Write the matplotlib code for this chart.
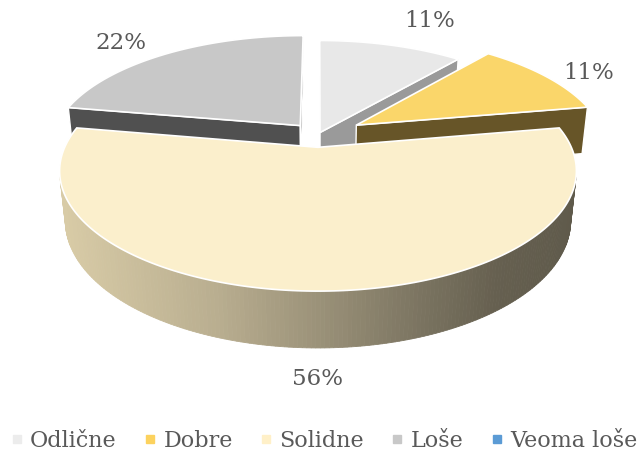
import numpy as np
import matplotlib.pyplot as plt
from matplotlib.patches import Polygon
from matplotlib.colors import LinearSegmentedColormap
from matplotlib.lines import Line2D

# survey answers
categories = ["Odlične", "Dobre", "Solidne", "Loše", "Veoma loše"]
counts = [1, 1, 5, 2, 0]

# style
top_colors = ["#e8e8e8", "#fad66a", "#fbefcc", "#c8c8c8", "#5b9bd5"]
cut_colors = ["#9a9a9a", "#675528", "#b0a688", "#505050", "#3a6f9e"]
legend_colors = ["#ececec", "#fcd25e", "#fff0c8", "#c8c8c8", "#5b9bd5"]
explode = [6, 45, 27, 28, 0]
label_offsets = [(38, -24), (43, -3), (0, 31), (-45, -11), (0, 0)]
wall_cmap = LinearSegmentedColormap.from_list(
    "wall", [(0.0, "#d8cba6"), (0.3, "#b9ae90"), (0.5, "#9b9279"),
             (0.7, "#7b7461"), (0.85, "#666050"), (1.0, "#5f5a4b")])

# projection settings (pixel units)
R = 248.0
H = 55.0
elev = np.radians(26.5)
D = 1150.0
cx, cy = 318.0, 135.0
cam = np.array([0.0, -D * np.cos(elev), D * np.sin(elev)])
font = "DejaVu Serif"
text_col = "#595959"


def proj(x, y, z):
    x = np.asarray(x, float)
    y = np.asarray(y, float)
    z = np.asarray(z, float)
    dpt = y * np.cos(elev) - z * np.sin(elev)
    v = y * np.sin(elev) + z * np.cos(elev)
    f = D / (D + dpt)
    return cx + x * f, cy - v * f


def facing(point, normal):
    return np.dot(cam - np.asarray(point), normal) > 0


fig = plt.figure(figsize=(6.43, 4.61), dpi=100)
ax = fig.add_axes([0, 0, 1, 1])
ax.set_xlim(0, 643)
ax.set_ylim(461, 0)
ax.axis("off")

total = sum(counts)
shares = [c / total for c in counts]
bounds = 90 - 360 * np.concatenate([[0], np.cumsum(shares)])

slices = []
for i, c in enumerate(counts):
    if c == 0:
        continue
    a0, a1 = np.radians(bounds[i]), np.radians(bounds[i + 1])
    mid = (a0 + a1) / 2
    ox, oy = explode[i] * np.cos(mid), explode[i] * np.sin(mid)
    half = (a0 - a1) / 2
    cdist = 2 * R * np.sin(half) / (3 * half)
    depth = oy + cdist * np.sin(mid)
    slices.append((depth, i, a0, a1, mid, ox, oy))

# far slices first
slices.sort(key=lambda s: -s[0])

for depth, i, a0, a1, mid, ox, oy in slices:
    th = np.linspace(a0, a1, 240)
    rx = ox + R * np.cos(th)
    ry = oy + R * np.sin(th)

    # radial cut faces
    for a, sgn in ((a0, 1), (a1, -1)):
        n = np.array([np.cos(a + sgn * np.pi / 2), np.sin(a + sgn * np.pi / 2), 0])
        ex, ey = ox + R * np.cos(a), oy + R * np.sin(a)
        mpt = [(ox + ex) / 2, (oy + ey) / 2, -H / 2]
        if not facing(mpt, n):
            continue
        px, py = proj([ox, ex, ex, ox], [oy, ey, ey, oy], [0, 0, -H, -H])
        ax.add_patch(Polygon(np.column_stack([px, py]), closed=True,
                             facecolor=cut_colors[i], edgecolor="white", lw=1.0))

    # outer wall, shaded across the screen
    tx, ty = proj(rx, ry, np.zeros_like(rx))
    bx, by = proj(rx, ry, np.full_like(rx, -H))
    for k in range(len(th) - 1):
        tm = (th[k] + th[k + 1]) / 2
        n = np.array([np.cos(tm), np.sin(tm), 0])
        pt = [ox + R * np.cos(tm), oy + R * np.sin(tm), -H / 2]
        if not facing(pt, n):
            continue
        frac = np.clip((tx[k] - 62) / (578 - 62), 0, 1)
        col = wall_cmap(frac)
        quad = [(tx[k], ty[k]), (tx[k + 1], ty[k + 1]),
                (bx[k + 1], by[k + 1]), (bx[k], by[k])]
        ax.add_patch(Polygon(quad, closed=True, facecolor=col,
                             edgecolor=col, lw=0.6))

    # top face
    px, py = proj(np.concatenate([[ox], rx]), np.concatenate([[oy], ry]),
                  np.zeros(len(rx) + 1))
    ax.add_patch(Polygon(np.column_stack([px, py]), closed=True,
                         facecolor=top_colors[i], edgecolor="white", lw=1.2))

    # percentage label
    if np.sin(mid) >= 0:
        lx, ly = proj(ox + R * np.cos(mid), oy + R * np.sin(mid), 0)
    else:
        lx, ly = proj(ox + R * np.cos(mid), oy + R * np.sin(mid), -H)
    dx, dy = label_offsets[i]
    ax.text(lx + dx, ly + dy, f"{round(shares[i] * 100)}%", ha="center",
            va="center", fontsize=16.5, family=font, color=text_col)

handles = [Line2D([], [], marker="s", linestyle="none", markersize=6,
                  markerfacecolor=c, markeredgecolor=c) for c in legend_colors]
fig.legend(handles, categories, loc="center", bbox_to_anchor=(0.5, 0.043),
           ncol=5, frameon=False, handletextpad=0.1, columnspacing=1.0,
           handlelength=1.0, prop={"family": font, "size": 16},
           labelcolor=text_col)

fig.savefig("out.png", dpi=100)
